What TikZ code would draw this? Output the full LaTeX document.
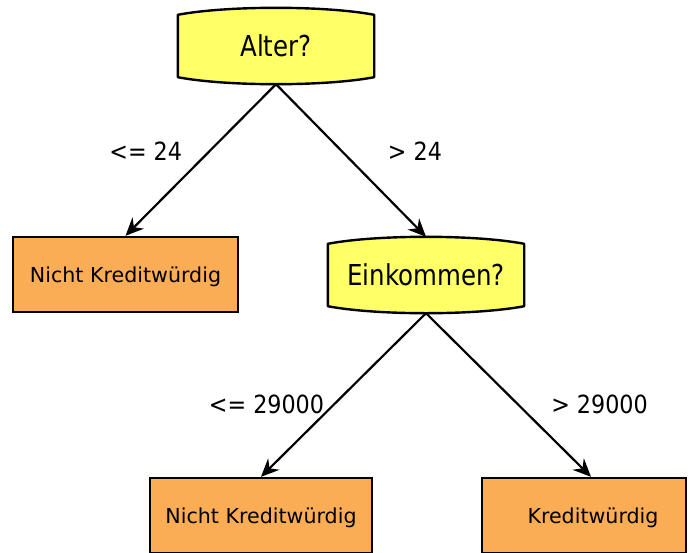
\documentclass[tikz,border=0pt]{standalone}
\usepackage{fontspec}
\setmainfont{DejaVu Sans}
\newfontfamily\qfont{DejaVu Sans}[FakeStretch=0.85]
\newfontfamily\lfont{DejaVu Sans}[FakeStretch=0.89]
\usetikzlibrary{arrows.meta,backgrounds}

\definecolor{qyellow}{HTML}{FFFF66}
\definecolor{leaforange}{HTML}{FBAD55}

\tikzset{
  question/.style={rectangle, minimum width=196pt, minimum height=76pt,
    inner sep=0pt, text height=21pt, text depth=0pt,
    font=\qfont\fontsize{28.8}{34}\selectfont},
  qborder/.style={draw=black, fill=qyellow, line width=2.4pt, line join=round},
  leaf/.style={rectangle, draw=black, fill=leaforange, line width=2.4pt,
    minimum height=75pt, inner sep=0pt, text height=15pt, text depth=0pt,
    font=\fontsize{20.6}{25}\selectfont},
  branch/.style={font=\lfont\fontsize{25}{30}\selectfont, inner sep=0pt,
    text height=18.2pt, text depth=0pt},
  edge/.style={line width=2.2pt, -{Stealth[length=18pt,width=16pt,inset=6pt]}},
}

\begin{document}
\begin{tikzpicture}[x=1pt, y=-1pt]
  \clip (0,0) rectangle (693,552);

  % decision nodes
  \node[question] (q1) at (276,46) {Alter?};
  \node[question] (q2) at (426,275) {Einkommen?};

  % leaves
  \node[leaf, minimum width=225pt] (n1) at (125.5,274.5) {Nicht Kreditwürdig};
  \node[leaf, minimum width=222pt] (n2) at (261,515.5) {Nicht Kreditwürdig};
  \node[leaf, minimum width=204pt] (n3) at (584,515.5) {\hspace*{18pt}Kreditwürdig};

  % outlines of the decision nodes: straight sides, bowed top and bottom
  \begin{pgfonlayer}{background}
    \foreach \q in {q1,q2}{
      \path[qborder]
        ([yshift=-7pt]\q.north west)
          .. controls ([xshift=49pt,yshift=2.33pt]\q.north west)
                  and ([xshift=-49pt,yshift=2.33pt]\q.north east) ..
        ([yshift=-7pt]\q.north east)
        -- ([yshift=7pt]\q.south east)
          .. controls ([xshift=-49pt,yshift=-2.33pt]\q.south east)
                  and ([xshift=49pt,yshift=-2.33pt]\q.south west) ..
        ([yshift=7pt]\q.south west)
        -- cycle;
    }
  \end{pgfonlayer}

  % branches
  \draw[edge] (q1.south) -- (n1.north);
  \draw[edge] (q1.south) -- (q2.north);
  \draw[edge] (q2.south) -- (n2.north);
  \draw[edge] (q2.south) -- ([xshift=7pt]n3.north);

  % branch labels
  \node[branch] (l1) at (145.7,151) {<= 24};
  \node[branch] (l2) at (415,151) {> 24};
  \node[branch] (l3) at (266.5,404) {<= 29000};
  \node[branch] (l4) at (599.5,404) {> 29000};
\end{tikzpicture}
\end{document}
